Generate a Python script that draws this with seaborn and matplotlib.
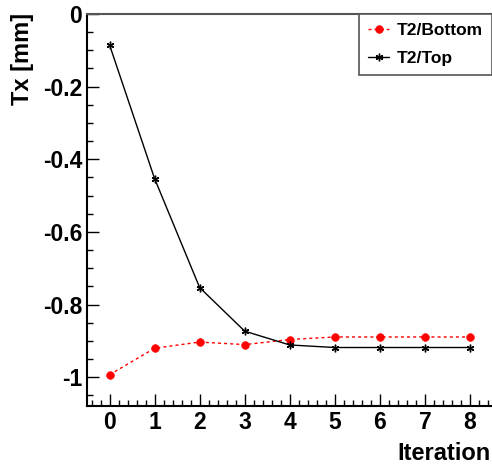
import matplotlib
matplotlib.use("Agg")
import matplotlib.pyplot as plt
from matplotlib.ticker import MultipleLocator, FixedLocator
import seaborn as sns
import pandas as pd

# Alignment iterations and translation Tx per detector half
iterations = [0, 1, 2, 3, 4, 5, 6, 7, 8]
tx_bottom = [-0.993, -0.920, -0.903, -0.910, -0.896, -0.889, -0.889, -0.889, -0.889]
tx_top = [-0.085, -0.453, -0.753, -0.873, -0.911, -0.918, -0.918, -0.918, -0.918]
series_names = ["T2/Bottom", "T2/Top"]

sns.set_style("ticks")
plt.rcParams["font.family"] = ["Liberation Sans", "DejaVu Sans"]
plt.rcParams["font.weight"] = "bold"
plt.rcParams["text.color"] = "black"
plt.rcParams["xtick.labelcolor"] = "black"
plt.rcParams["ytick.labelcolor"] = "black"

fig = plt.figure(figsize=(4.92, 4.66), dpi=100)
W, H = 492, 466
ax = fig.add_axes([87 / W, 1 - 406 / H, (492.5 - 87) / W, (406 - 14) / H])

df = pd.DataFrame({"Iteration": iterations, "bottom": tx_bottom, "top": tx_top})

sns.lineplot(data=df, x="Iteration", y="bottom", ax=ax, color="red",
             linestyle=(0, (2.2, 2.2)), linewidth=1.0, marker="o", markersize=5.5,
             markeredgecolor="red", markerfacecolor="red", markeredgewidth=0.5,
             label=series_names[0])
sns.lineplot(data=df, x="Iteration", y="top", ax=ax, color="black",
             linewidth=1.0, marker=(6, 2, 0), markersize=5.5,
             markeredgecolor="black", markeredgewidth=1.0,
             label=series_names[1])

ax.set_xlim(-0.5, 8.5)
ax.set_ylim(-1.079, 0.0)

ax.xaxis.set_major_locator(FixedLocator(iterations))
ax.xaxis.set_minor_locator(MultipleLocator(0.2))
ax.yaxis.set_major_locator(MultipleLocator(0.2))
ax.yaxis.set_minor_locator(MultipleLocator(0.05))
ax.set_yticks([0, -0.2, -0.4, -0.6, -0.8, -1.0])
ax.set_yticklabels(["0", "-0.2", "-0.4", "-0.6", "-0.8", "-1"])

ax.tick_params(which="major", direction="in", length=8.3, width=1.0,
               labelsize=16.5, pad=3.5, color="black", labelcolor="black")
ax.tick_params(which="minor", direction="in", length=4.3, width=1.0, color="black")
for lbl in ax.get_xticklabels() + ax.get_yticklabels():
    lbl.set_fontweight("bold")

for side in ["left", "bottom"]:
    ax.spines[side].set_linewidth(1.5)
    ax.spines[side].set_color("black")
ax.spines["top"].set_linewidth(1.5)
ax.spines["top"].set_color("#555555")
ax.spines["right"].set_visible(False)

ax.set_xlabel("")
ax.set_ylabel("")
fig.text(491 / W, 1 - 460 / H, "Iteration", ha="right", va="baseline",
         fontsize=17, fontweight="bold", color="black")
fig.text(22 / W, 1 - 13 / H, "Tx [mm]", ha="center", va="top", rotation=90,
         fontsize=17, fontweight="bold", color="black")

leg = ax.legend(loc="upper right", bbox_to_anchor=(492 / W, 1 - 14 / H),
                bbox_transform=fig.transFigure, borderaxespad=0,
                frameon=True, fancybox=False, framealpha=1, edgecolor="#555555",
                prop={"size": 12.5, "weight": "bold"}, handlelength=1.25,
                handletextpad=0.45, labelspacing=0.75, borderpad=0.5)
leg.get_frame().set_linewidth(1.2)
for t in leg.get_texts():
    t.set_color("black")

fig.savefig("out.png", dpi=100)
